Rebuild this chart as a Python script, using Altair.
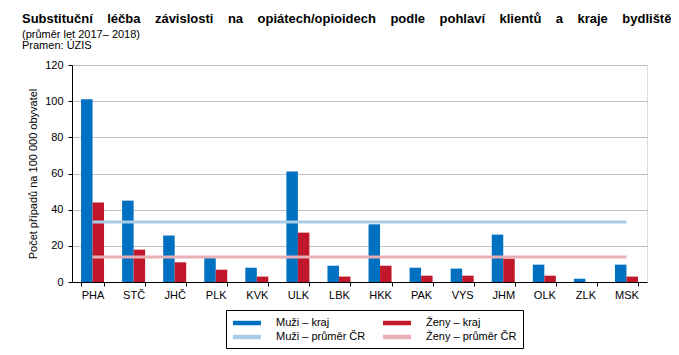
import altair as alt
import pandas as pd

kraje = ["PHA", "STČ", "JHČ", "PLK", "KVK", "ULK", "LBK", "HKK", "PAK", "VYS", "JHM", "OLK", "ZLK", "MSK"]
muzi = [101.0, 45.0, 25.7, 13.3, 7.9, 61.1, 9.0, 31.9, 7.9, 7.4, 26.2, 9.6, 1.8, 9.6]
zeny = [43.9, 17.9, 10.9, 6.8, 3.0, 27.3, 3.0, 9.0, 3.5, 3.5, 12.9, 3.5, 0.0, 3.0]
muzi_cr = 33.2
zeny_cr = 13.8

series = ["Muži – kraj", "Ženy – kraj", "Muži – průměr ČR", "Ženy – průměr ČR"]
colors = ["#0070C0", "#C0182A", "#A9CDE9", "#E8B0B4"]
legend_order = [series[0], series[2], series[1], series[3]]

title_words = ["Substituční", "léčba", "závislosti", "na", "opiátech/opioidech", "podle",
               "pohlaví", "klientů", "a", "kraje", "bydliště"]

rows = []
for k, m, z in zip(kraje, muzi, zeny):
    rows.append({"kraj": k, "serie": series[0], "hodnota": m})
    rows.append({"kraj": k, "serie": series[1], "hodnota": z})
bars_df = pd.DataFrame(rows)

lrows = []
for k in kraje:
    lrows.append({"kraj": k, "serie": series[2], "hodnota": muzi_cr})
    lrows.append({"kraj": k, "serie": series[3], "hodnota": zeny_cr})
lines_df = pd.DataFrame(lrows)

FONT = "Liberation Sans"

color_scale = alt.Scale(domain=series, range=colors)
x_enc = alt.X(
    "kraj:N", sort=kraje, title=None,
    scale=alt.Scale(paddingInner=0.44, paddingOuter=0.22),
    axis=alt.Axis(labelAngle=0, tickBand="extent", domainColor="black", tickColor="black",
                  labelColor="black", labelFontSize=11, labelFont=FONT, tickSize=4, labelPadding=3),
)
y_enc = alt.Y(
    "hodnota:Q", title="Počet případů na 100 000 obyvatel",
    scale=alt.Scale(domain=[0, 120], nice=False),
    axis=alt.Axis(values=[0, 20, 40, 60, 80, 100, 120], gridColor="#BFBFBF", domainColor="black",
                  tickColor="black", labelColor="black", labelFontSize=11, labelFont=FONT,
                  titleFont=FONT, titleFontSize=11, titleFontWeight="normal", titleColor="black",
                  tickSize=4, labelPadding=5, titlePadding=6, labelOverlap=False),
)

legend = alt.Legend(
    title=None, orient="none", legendX=154, legendY=245, columns=2, columnPadding=16,
    rowPadding=2, strokeColor="black", padding=6, labelFont=FONT, labelFontSize=11,
    labelColor="black", symbolSize=196, symbolOffset=8, labelOffset=22,
    symbolType="M-2,-0.32L2,-0.32L2,0.32L-2,0.32Z",
    symbolStrokeWidth=0, symbolOpacity=1,
    values=legend_order,
)

color_enc = alt.Color("serie:N", scale=color_scale, sort=series, legend=legend)

bars = alt.Chart(bars_df).mark_bar().encode(
    x=x_enc,
    xOffset=alt.XOffset("serie:N", sort=series[:2], scale=alt.Scale(paddingInner=0, paddingOuter=0)),
    y=y_enc,
    color=color_enc,
)

lines = alt.Chart(lines_df).mark_line(strokeWidth=3).encode(
    x=x_enc,
    y=y_enc,
    color=color_enc,
    detail="serie:N",
)

gap = " " + "\u00a0" * 3
title_text = gap.join(title_words)

chart = alt.layer(bars, lines).properties(
    width=575, height=217,
    padding={"left": 64, "top": 57, "right": 24, "bottom": 75},
    autosize=alt.AutoSizeParams(type="none"),
    title=alt.TitleParams(
        text=title_text,
        subtitle=["(průměr let 2017– 2018)", "Pramen: ÚZIS"],
        anchor="start", frame="group", dx=-50, offset=8,
        font=FONT, fontSize=13, fontWeight="bold", color="black",
        subtitleFont=FONT, subtitleFontSize=11, subtitleColor="black", subtitlePadding=3,
        subtitleLineHeight=11,
    ),
).configure_view(stroke="black", strokeWidth=1).configure(background="white")

chart.save("out.html", embed_options={"renderer": "svg", "actions": False})
